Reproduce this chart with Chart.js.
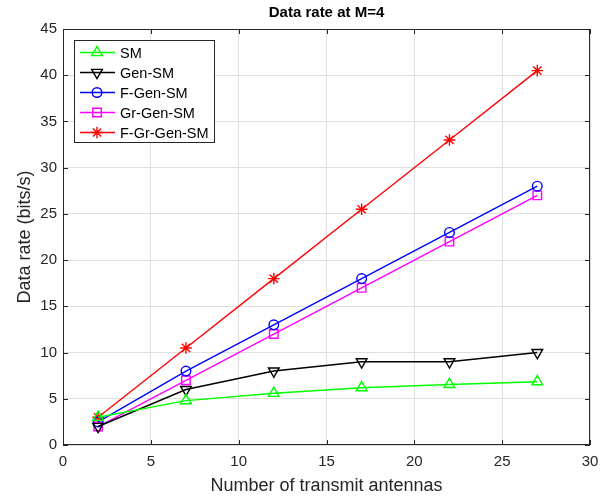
<!DOCTYPE html>
<html>
<head>
<meta charset="utf-8">
<script src="https://cdn.jsdelivr.net/npm/chart.js@4.4.1/dist/chart.umd.min.js"></script>
<style>
  html, body { margin: 0; padding: 0; background: #fff; }
  #wrap { width: 616px; height: 497px; }
</style>
</head>
<body>
<div id="wrap"><canvas id="rateChart"></canvas></div>
<script>
// antenne (asse x)
const antennas = [2, 7, 12, 17, 22, 27];

// data rate per schema (bits/s)
const smRate       = [3, 4.8, 5.6, 6.2, 6.55, 6.85];
const genSmRate    = [2, 6, 8, 9, 9, 10];
const fGenSmRate   = [2.5, 8, 13, 18, 23, 28];
const grGenSmRate  = [2, 7, 12, 17, 22, 27];
const fGrGenSmRate = [3, 10.5, 18, 25.5, 33, 40.5];

const xTicks = [0, 5, 10, 15, 20, 25, 30];
const yTicks = [0, 5, 10, 15, 20, 25, 30, 35, 40, 45];

const FONT = '"Liberation Sans", Arial, sans-serif';
const TEXT = '#262626';

function serie(label, values, color, style, rot, radius) {
    return {
        label: label,
        data: antennas.map((x, i) => ({ x: x, y: values[i] })),
        borderColor: color,
        backgroundColor: 'rgba(0,0,0,0)',
        pointBorderColor: color,
        pointBackgroundColor: 'rgba(0,0,0,0)',
        pointStyle: style,
        rotation: rot,
        pointRadius: radius,
        pointBorderWidth: 1.4,
        borderWidth: 1.4,
        tension: 0
    };
}

const datasets = [
    serie('SM', smRate, '#00ff00', 'triangle', 0, 6.2),
    serie('Gen-SM', genSmRate, '#000000', 'triangle', 180, 6.2),
    serie('F-Gen-SM', fGenSmRate, '#0000ff', 'circle', 0, 4.8),
    serie('Gr-Gen-SM', grGenSmRate, '#ff00ff', 'rect', 0, 6),
    serie('F-Gr-Gen-SM', fGrGenSmRate, '#ff0000', 'star', 0, 5.8)
];

// box, tacche interne, titolo e legenda in stile MATLAB
const matlabBox = {
    id: 'matlabBox',
    afterDraw(chart) {
        const c = chart.ctx;
        const a = chart.chartArea;
        const sx = chart.scales.x, sy = chart.scales.y;
        c.save();
        c.strokeStyle = TEXT;
        c.lineWidth = 1;
        c.strokeRect(a.left + 0.5, a.top + 0.5, a.right - a.left - 1, a.bottom - a.top - 1);
        // tacche
        xTicks.forEach(v => {
            const px = Math.round(sx.getPixelForValue(v)) + 0.5;
            c.beginPath();
            c.moveTo(px, a.bottom); c.lineTo(px, a.bottom - 5);
            c.moveTo(px, a.top); c.lineTo(px, a.top + 5);
            c.stroke();
        });
        yTicks.forEach(v => {
            const py = Math.round(sy.getPixelForValue(v)) + 0.5;
            c.beginPath();
            c.moveTo(a.left, py); c.lineTo(a.left + 5, py);
            c.moveTo(a.right, py); c.lineTo(a.right - 5, py);
            c.stroke();
        });
        // titolo
        c.fillStyle = '#000';
        c.font = 'bold 15px ' + FONT;
        c.textAlign = 'center';
        c.textBaseline = 'middle';
        c.fillText(chart.options.plugins.title.text, (a.left + a.right) / 2, 13);

        // legenda
        const lx = a.left + 11, ly = a.top + 11, lw = 140, lh = 102;
        c.fillStyle = '#fff';
        c.fillRect(lx, ly, lw, lh);
        c.strokeStyle = TEXT;
        c.strokeRect(lx + 0.5, ly + 0.5, lw, lh);
        c.font = '14.5px ' + FONT;
        c.textAlign = 'left';
        chart.data.datasets.forEach((ds, i) => {
            const yy = ly + 12.5 + i * 20;
            c.strokeStyle = ds.borderColor;
            c.lineWidth = 1.4;
            c.beginPath();
            c.moveTo(lx + 6, yy); c.lineTo(lx + 41, yy);
            c.stroke();
            c.fillStyle = 'rgba(0,0,0,0)';
            Chart.helpers.drawPoint(c, {
                pointStyle: ds.pointStyle,
                rotation: ds.rotation,
                radius: ds.pointRadius,
                borderWidth: 1.4
            }, lx + 23, yy);
            c.fillStyle = '#000';
            c.fillText(ds.label, lx + 46, yy + 1);
        });
        c.restore();
    }
};

new Chart(document.getElementById('rateChart'), {
    type: 'line',
    data: { datasets: datasets },
    plugins: [matlabBox],
    options: {
        responsive: true,
        maintainAspectRatio: false,
        animation: false,
        layout: { padding: { top: 29, right: 26, left: 0, bottom: 0 } },
        plugins: {
            legend: { display: false },
            tooltip: { enabled: false },
            title: { display: false, text: 'Data rate at M=4' }
        },
        scales: {
            x: {
                type: 'linear',
                min: 0, max: 30,
                afterBuildTicks: s => { s.ticks = xTicks.map(v => ({ value: v })); },
                afterFit: s => { s.height = 52; },
                grid: { color: '#dfdfdf', drawTicks: false },
                border: { display: false },
                ticks: { color: TEXT, font: { family: FONT, size: 15 }, padding: 8, maxRotation: 0 },
                title: {
                    display: true,
                    text: 'Number of transmit antennas',
                    color: TEXT,
                    font: { family: FONT, size: 18 },
                    padding: { top: 0, bottom: 0 }
                }
            },
            y: {
                min: 0, max: 45,
                afterBuildTicks: s => { s.ticks = yTicks.map(v => ({ value: v })); },
                afterFit: s => { s.width = 63; },
                grid: { color: '#dfdfdf', drawTicks: false },
                border: { display: false },
                ticks: { color: TEXT, font: { family: FONT, size: 15 }, padding: 6 },
                title: {
                    display: true,
                    text: 'Data rate (bits/s)',
                    color: TEXT,
                    font: { family: FONT, size: 18 },
                    padding: { top: 14, bottom: 0 }
                }
            }
        }
    }
});
</script>
</body>
</html>
